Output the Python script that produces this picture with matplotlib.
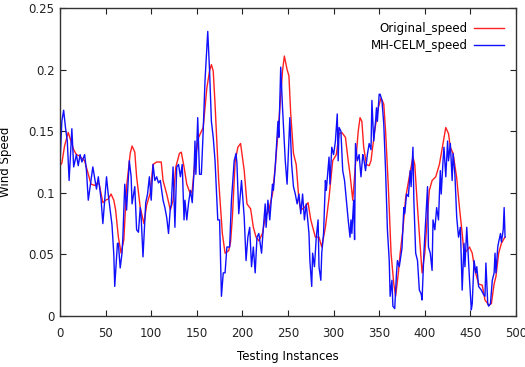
import matplotlib.pyplot as plt

# values (instance index, wind speed)
orig_x = [0, 2, 5, 9, 12, 15, 18, 21, 24, 27, 31, 34, 38, 41, 43, 47, 50, 53, 56, 59,
          61, 64, 67, 70, 73, 77, 79, 82, 84, 88, 92, 95, 99, 102, 106, 111, 113, 117, 121, 124,
          127, 131, 133, 136, 139, 143, 145, 148, 152, 157, 161, 164, 166, 168, 170, 174, 178, 181, 185, 187,
          189, 192, 195, 198, 202, 205, 209, 212, 215, 218, 222, 225, 229, 233, 236, 240, 244, 246, 249, 251,
          253, 256, 259, 262, 264, 268, 272, 275, 280, 284, 287, 291, 295, 299, 303, 306, 309, 313, 316, 318,
          321, 324, 327, 329, 331, 333, 336, 339, 341, 345, 349, 352, 355, 357, 360, 363, 366, 368, 371, 373,
          376, 379, 383, 387, 389, 392, 395, 397, 400, 403, 405, 408, 412, 416, 420, 423, 426, 428, 431, 435,
          438, 441, 443, 446, 449, 452, 455, 459, 463, 466, 470, 473, 476, 478, 481, 484, 487, 488]
orig_y = [0.122, 0.124, 0.138, 0.149, 0.142, 0.135, 0.131, 0.130, 0.128, 0.126, 0.115, 0.107, 0.106, 0.108, 0.107, 0.092, 0.094, 0.095, 0.099, 0.094,
          0.086, 0.064, 0.051, 0.062, 0.105, 0.132, 0.138, 0.133, 0.113, 0.088, 0.075, 0.090, 0.100, 0.123, 0.125, 0.125, 0.110, 0.099, 0.086, 0.094,
          0.121, 0.132, 0.133, 0.121, 0.107, 0.099, 0.102, 0.126, 0.145, 0.153, 0.185, 0.199, 0.204, 0.199, 0.172, 0.110, 0.067, 0.051, 0.053, 0.060,
          0.080, 0.125, 0.137, 0.140, 0.118, 0.091, 0.087, 0.072, 0.064, 0.061, 0.067, 0.080, 0.086, 0.099, 0.121, 0.158, 0.199, 0.211, 0.200, 0.195,
          0.164, 0.132, 0.123, 0.094, 0.086, 0.088, 0.092, 0.078, 0.064, 0.064, 0.056, 0.072, 0.096, 0.126, 0.131, 0.148, 0.149, 0.145, 0.126, 0.115,
          0.094, 0.123, 0.150, 0.161, 0.158, 0.137, 0.123, 0.122, 0.126, 0.150, 0.169, 0.177, 0.172, 0.150, 0.105, 0.051, 0.026, 0.016, 0.035, 0.051,
          0.070, 0.096, 0.113, 0.129, 0.123, 0.088, 0.056, 0.035, 0.051, 0.083, 0.102, 0.110, 0.113, 0.123, 0.140, 0.153, 0.148, 0.137, 0.132, 0.112,
          0.088, 0.067, 0.051, 0.053, 0.056, 0.051, 0.037, 0.026, 0.025, 0.013, 0.009, 0.010, 0.026, 0.032, 0.051, 0.059, 0.063, 0.064]

pred_x = [0, 2, 4, 6, 8, 10, 13, 15, 18, 20, 22, 24, 27, 29, 31, 34, 36, 40, 42, 45,
          47, 51, 53, 57, 59, 60, 63, 64, 66, 68, 69, 71, 73, 76, 78, 79, 82, 84, 86, 88,
          89, 91, 94, 96, 98, 100, 102, 104, 106, 108, 110, 112, 113, 115, 117, 119, 121, 122, 124, 126,
          128, 130, 132, 134, 136, 137, 139, 141, 143, 145, 147, 148, 149, 151, 153, 155, 157, 159, 162, 164,
          166, 168, 170, 173, 175, 177, 179, 181, 183, 186, 188, 191, 193, 194, 196, 199, 202, 204, 206, 208,
          210, 212, 214, 216, 218, 221, 223, 225, 226, 228, 230, 233, 234, 236, 239, 240, 242, 244, 247, 249,
          250, 252, 254, 256, 258, 260, 262, 264, 266, 268, 270, 273, 274, 276, 277, 279, 281, 283, 284, 286,
          287, 289, 291, 292, 295, 296, 298, 300, 302, 304, 305, 306, 308, 310, 312, 314, 316, 318, 319, 320,
          322, 323, 324, 326, 328, 330, 332, 333, 335, 337, 339, 341, 342, 344, 346, 347, 348, 350, 351, 353,
          355, 357, 359, 361, 362, 364, 365, 367, 369, 370, 372, 373, 375, 377, 378, 380, 382, 384, 385, 387,
          388, 390, 392, 394, 396, 397, 399, 401, 403, 404, 406, 408, 409, 411, 413, 415, 417, 418, 420, 421,
          423, 425, 426, 428, 430, 431, 433, 435, 437, 439, 441, 443, 444, 446, 448, 449, 451, 452, 454, 456,
          457, 459, 462, 464, 466, 467, 469, 470, 472, 474, 476, 477, 478, 480, 481, 483, 484, 486, 487, 488]
pred_y = [0.123, 0.158, 0.167, 0.153, 0.142, 0.110, 0.152, 0.121, 0.131, 0.122, 0.131, 0.125, 0.131, 0.118, 0.094, 0.110, 0.121, 0.103, 0.113, 0.095,
          0.075, 0.113, 0.098, 0.074, 0.050, 0.024, 0.059, 0.059, 0.039, 0.051, 0.065, 0.107, 0.086, 0.126, 0.113, 0.091, 0.105, 0.070, 0.068, 0.088,
          0.080, 0.048, 0.092, 0.099, 0.113, 0.094, 0.123, 0.110, 0.113, 0.108, 0.110, 0.099, 0.094, 0.088, 0.080, 0.067, 0.088, 0.090, 0.121, 0.072,
          0.121, 0.123, 0.113, 0.123, 0.078, 0.094, 0.078, 0.092, 0.102, 0.092, 0.118, 0.142, 0.115, 0.161, 0.115, 0.115, 0.150, 0.191, 0.231, 0.199,
          0.158, 0.145, 0.126, 0.078, 0.078, 0.016, 0.035, 0.035, 0.056, 0.056, 0.094, 0.126, 0.132, 0.124, 0.083, 0.110, 0.080, 0.045, 0.064, 0.072,
          0.040, 0.056, 0.035, 0.064, 0.067, 0.051, 0.072, 0.091, 0.072, 0.094, 0.078, 0.107, 0.102, 0.121, 0.158, 0.145, 0.202, 0.169, 0.126, 0.107,
          0.125, 0.161, 0.123, 0.105, 0.099, 0.091, 0.099, 0.083, 0.099, 0.078, 0.091, 0.067, 0.045, 0.024, 0.051, 0.040, 0.064, 0.078, 0.040, 0.029,
          0.051, 0.067, 0.110, 0.102, 0.129, 0.107, 0.137, 0.131, 0.142, 0.164, 0.126, 0.153, 0.150, 0.118, 0.110, 0.094, 0.078, 0.064, 0.078, 0.067,
          0.094, 0.062, 0.140, 0.126, 0.131, 0.113, 0.131, 0.128, 0.118, 0.131, 0.140, 0.135, 0.175, 0.142, 0.158, 0.169, 0.158, 0.180, 0.180, 0.175,
          0.156, 0.118, 0.070, 0.045, 0.016, 0.029, 0.008, 0.006, 0.035, 0.045, 0.040, 0.045, 0.055, 0.088, 0.083, 0.099, 0.097, 0.118, 0.105, 0.137,
          0.094, 0.051, 0.045, 0.021, 0.018, 0.013, 0.051, 0.078, 0.105, 0.056, 0.051, 0.037, 0.078, 0.070, 0.088, 0.078, 0.118, 0.099, 0.126, 0.137,
          0.113, 0.142, 0.126, 0.140, 0.110, 0.132, 0.115, 0.080, 0.064, 0.072, 0.021, 0.059, 0.040, 0.072, 0.043, 0.030, 0.005, 0.010, 0.045, 0.035,
          0.040, 0.024, 0.021, 0.018, 0.016, 0.043, 0.010, 0.008, 0.010, 0.029, 0.035, 0.051, 0.035, 0.056, 0.060, 0.067, 0.060, 0.070, 0.088, 0.064]

x_ticks = [0, 50, 100, 150, 200, 250, 300, 350, 400, 450, 500]
y_ticks = [0, 0.05, 0.1, 0.15, 0.2, 0.25]
y_tick_labels = ["0", "0.05", "0.1", "0.15", "0.2", "0.25"]

plt.rcParams['font.family'] = 'DejaVu Sans'
fig = plt.figure(figsize=(5.25, 3.67), dpi=100)
ax = fig.add_axes([60 / 525, 51 / 367, 456 / 525, 308 / 367])

ax.plot(orig_x, orig_y, color='#ff2020', lw=1.0, label='Original_speed')
ax.plot(pred_x, pred_y, color='#1010ff', lw=1.0, label='MH-CELM_speed')

ax.set_xlim(0, 500)
ax.set_ylim(0, 0.25)
ax.set_xticks(x_ticks)
ax.set_yticks(y_ticks)
ax.set_yticklabels(y_tick_labels)
ax.tick_params(direction='in', length=4, width=0.8, top=True, right=True,
               labelsize=8.5, colors='#222222')
ax.tick_params(axis='x', pad=8)
ax.tick_params(axis='y', pad=4)
for s in ax.spines.values():
    s.set_linewidth(1.0)
    s.set_color('#333333')

ax.set_xlabel('Testing Instances', fontsize=8.5, labelpad=7)
ax.set_ylabel('Wind Speed', fontsize=8.5, labelpad=12)

ax.legend(loc='upper right', frameon=False, markerfirst=False, fontsize=8.5,
          handlelength=2.6, handletextpad=0.5, labelspacing=0.35,
          borderaxespad=0.4, bbox_to_anchor=(0.995, 0.985))

fig.savefig('out.png', dpi=100)
